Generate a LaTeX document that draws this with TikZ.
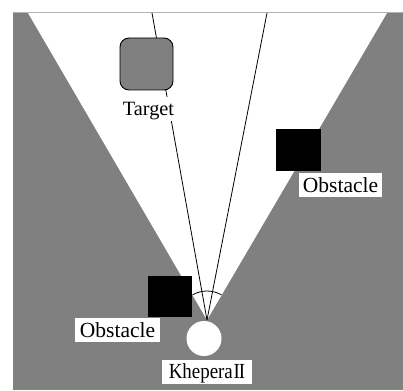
\documentclass[tikz,border=0pt]{standalone}
\usepackage{fontspec}
\usepackage{graphicx}
\setmainfont{Liberation Serif}
\begin{document}
\begin{tikzpicture}[x=1pt,y=-1pt,
  lbl/.style={fill=white,inner xsep=1pt,inner ysep=2.5pt,text height=16.5pt,text depth=2.5pt,font=\fontsize{21.5}{22}\selectfont},
  obst/.style={fill=black,draw=none},
  ray/.style={draw=black,line width=0.8pt}]
\useasboundingbox (0,0) rectangle (403,390);
% background field
\fill[gray] (13,13) rectangle (403,390);
\coordinate (apex) at (207,320);
\coordinate (coneL) at (28,13);
\coordinate (coneR) at (387,13);
\fill[white] (apex) -- (coneL) -- (coneR) -- cycle;
\draw[gray!60,line width=1pt] (13,12.5) -- (403,12.5);
% rays
\coordinate (rayA) at (152,13);
\coordinate (rayB) at (267,13);
\draw[ray] (apex) -- (rayA);
\draw[ray] (apex) -- (rayB);
\draw[ray] ([shift={(-120:29)}]apex) arc[start angle=-120,end angle=-60,radius=29];
% target
\node[draw=black,fill=gray,line width=0.9pt,rounded corners=9pt,minimum width=53pt,minimum height=52pt,inner sep=0pt] (target) at (146.5,64) {};
\node[lbl,font=\fontsize{20.3}{21}\selectfont,minimum width=56pt,inner xsep=0pt] (targetlbl) at (148.5,109) {Target};
% obstacles
\node[obst,minimum width=45pt,minimum height=42pt,inner sep=0pt] (obsR) at (298.5,150) {};
\node[obst,minimum width=44pt,minimum height=41pt,inner sep=0pt] (obsL) at (170,296.5) {};
\node[lbl,minimum width=83pt] (obsRlbl) at (340.5,185) {Obstacle};
\node[lbl,minimum width=85pt] (obsLlbl) at (117.5,330) {Obstacle};
% robot
\node[circle,fill=white,minimum size=35pt,inner sep=0pt] (robot) at (204,338.5) {};
\node[lbl,minimum width=90pt] (robotlbl) at (207,371.5) {\scalebox{0.88}[1]{Khepera\kern1pt I\kern-1.3pt I}};
\end{tikzpicture}
\end{document}
